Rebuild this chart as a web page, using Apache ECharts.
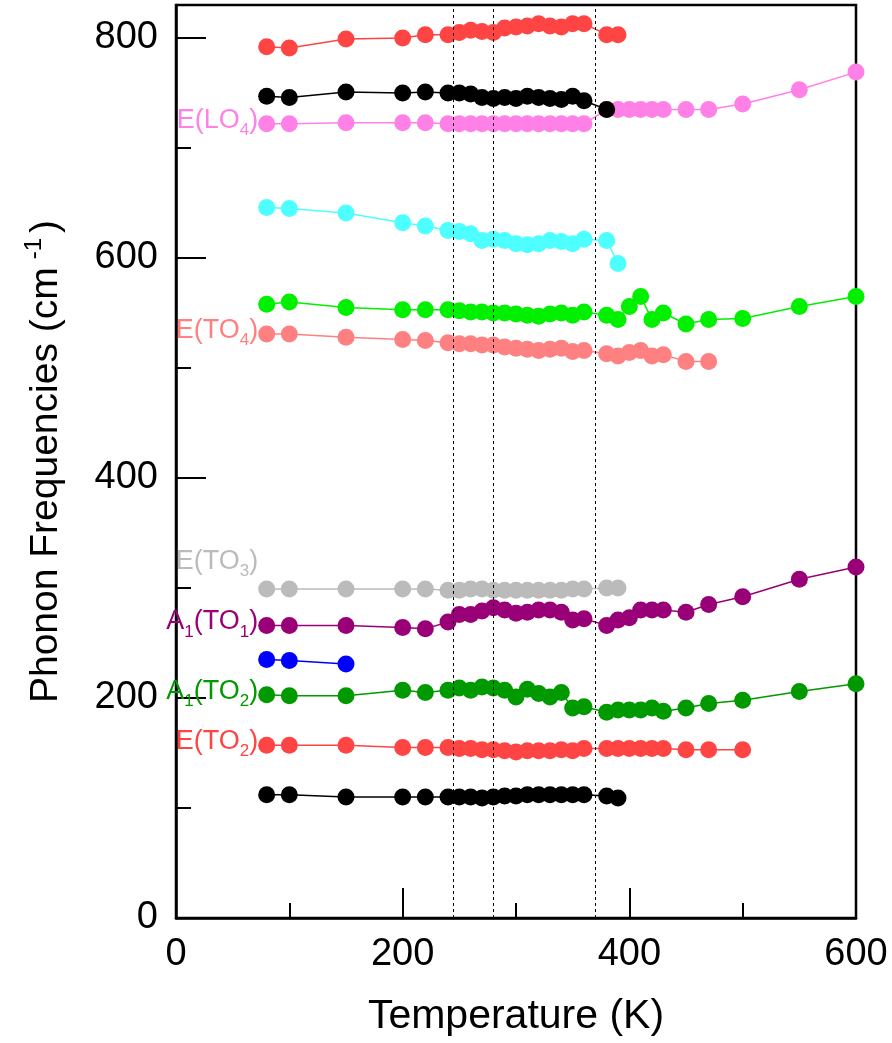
<!DOCTYPE html>
<html>
<head>
<meta charset="utf-8">
<script src="https://cdn.jsdelivr.net/npm/echarts@6/dist/echarts.min.js"></script>
<style>
  html, body { margin: 0; padding: 0; background: #fff; }
  #chart { width: 892px; height: 1043px; }
</style>
</head>
<body>
<div id="chart"></div>
<script>
// temperatures (K)
let tCore = [80, 100, 150, 200, 220, 240, 250, 260, 270, 280, 290, 300, 310, 320, 330, 340, 350, 360];
let tTo390 = tCore.concat([380, 390]);
let tTo380 = tCore.concat([380]);
let tTo470 = tTo390.concat([400, 410, 420, 430, 450, 470]);
let tTo500 = tTo470.concat([500]);
let tTo600 = tTo500.concat([550, 600]);

// phonon frequencies (cm-1)
let redTop = [792, 791, 799, 800, 803, 803, 805, 807, 806, 805, 809, 810, 811, 813, 811, 810, 813, 813, 803, 803];
let blackTop = [747, 746, 751, 750, 751, 750, 750, 749, 746, 745, 746, 745, 747, 746, 745, 744, 747, 743, 735];
let pinkLO4 = [722, 722, 723, 723, 723, 722, 722, 722, 722, 722, 722, 722, 722, 722, 722, 722, 722, 722,
    735, 735, 735, 735, 735, 735, 735, 735, 740, 753, 769];
let cyan = [646, 645, 641, 632, 629, 625, 624, 622, 616, 617, 616, 613, 612, 613, 616, 615, 613, 617, 616, 595];
let green = [558, 560, 555, 553, 553, 553, 552, 551, 551, 550, 550, 549, 548, 547, 549, 550, 548, 551,
    548, 544, 556, 565, 544, 550, 540, 544, 545, 556, 565];
let salmonTO4 = [531, 531, 528, 526, 525, 523, 522, 522, 521, 521, 519, 518, 517, 516, 517, 518, 515, 516,
    513, 511, 514, 516, 511, 512, 506, 506];
let grayTO3 = [299, 299, 299, 299, 299, 298, 298, 299, 299, 298, 298, 298, 298, 298, 298, 298, 299, 299, 300, 300];
let purpleTO1 = [266, 266, 266, 264, 263, 269, 276, 276, 279, 282, 280, 277, 278, 280, 280, 278, 271, 272,
    266, 271, 273, 280, 280, 280, 278, 285, 292, 308, 319];
let blue = [235, 234, 231];
let dgreenTO2 = [203, 202, 202, 207, 205, 207, 209, 207, 210, 209, 207, 201, 208, 204, 201, 205, 191, 192,
    187, 189, 189, 189, 191, 188, 191, 195, 198, 206, 213];
let redTO2 = [157, 157, 157, 155, 155, 155, 154, 154, 153, 153, 152, 151, 152, 152, 152, 153, 152, 154,
    154, 154, 154, 154, 154, 154, 153, 153, 153];
let blackLow = [112, 112, 110, 110, 110, 110, 110, 110, 109, 110, 111, 111, 112, 112, 112, 112, 112, 112, 111, 109];

// transition temperatures (dashed lines)
let transitions = [245, 280, 370];

let sans = '"Liberation Sans", Arial, sans-serif';

function modeLabel(text, color, offset) {
    return {
        show: true,
        position: 'left',
        distance: 0,
        offset: offset || [0, 0],
        formatter: text,
        rich: {
            m: { fontFamily: sans, fontSize: 27, color: color, lineHeight: 30, padding: [0, 0, 5, 0], verticalAlign: 'bottom' },
            s: { fontFamily: sans, fontSize: 17, color: color, lineHeight: 18, verticalAlign: 'bottom' }
        }
    };
}

function makeSeries(name, temps, vals, color, label) {
    let data = [];
    for (let i = 0, len = vals.length; i < len; i++) {
        let item = { value: [temps[i], vals[i]] };
        if (i === 0 && label) {
            item.label = label;
        }
        data.push(item);
    }
    return {
        name: name,
        type: 'line',
        symbol: 'circle',
        symbolSize: 17,
        itemStyle: { color: color },
        lineStyle: { color: color, width: 1.5 },
        label: { show: false },
        data: data
    };
}

let series = [
    makeSeries('redTop', tTo390, redTop, '#ff4444'),
    makeSeries('E(LO4)', tTo600, pinkLO4, '#ff80e6', modeLabel('{m|E(LO}{s|4}{m|)}', '#ff80e6')),
    makeSeries('blackTop', tTo380, blackTop, '#000000'),
    makeSeries('cyan', tTo390, cyan, '#4dffff'),
    makeSeries('green', tTo600, green, '#00f000'),
    makeSeries('E(TO4)', tTo470, salmonTO4, '#ff8080', modeLabel('{m|E(TO}{s|4}{m|)}', '#ff8080')),
    makeSeries('E(TO3)', tTo390, grayTO3, '#bbbbbb', modeLabel('{m|E(TO}{s|3}{m|)}', '#bbbbbb', [0, -24])),
    makeSeries('A1(TO1)', tTo600, purpleTO1, '#990077', modeLabel('{m|A}{s|1}{m|(TO}{s|1}{m|)}', '#990077')),
    makeSeries('blue', [80, 100, 150], blue, '#0000ff'),
    makeSeries('A1(TO2)', tTo600, dgreenTO2, '#009900', modeLabel('{m|A}{s|1}{m|(TO}{s|2}{m|)}', '#009900')),
    makeSeries('E(TO2)', tTo500, redTO2, '#ff4444', modeLabel('{m|E(TO}{s|2}{m|)}', '#ff4444')),
    makeSeries('blackLow', tTo390, blackLow, '#000000')
];

series[0].markLine = {
    silent: true,
    symbol: 'none',
    label: { show: false },
    lineStyle: { color: '#000', width: 1, type: [3, 3] },
    data: transitions.map(function (t) { return { xAxis: t }; })
};

let chart = echarts.init(document.getElementById('chart'));
let option = {
    animation: false,
    backgroundColor: '#fff',
    grid: {
        left: 176,
        right: 36,
        top: 5,
        bottom: 125,
        show: true,
        borderColor: '#000',
        borderWidth: 2.5,
        backgroundColor: 'transparent'
    },
    xAxis: {
        type: 'value',
        min: 0,
        max: 600,
        interval: 200,
        name: 'Temperature (K)',
        nameLocation: 'middle',
        nameGap: 78,
        nameTextStyle: { fontFamily: sans, fontSize: 41, color: '#000' },
        axisLine: { show: true, lineStyle: { color: '#000', width: 2.5 } },
        axisTick: { show: true, inside: true, length: 30, lineStyle: { color: '#000', width: 2 } },
        minorTick: { show: true, splitNumber: 2, length: 15, lineStyle: { color: '#000', width: 2 } },
        axisLabel: { fontFamily: sans, fontSize: 38, color: '#000', margin: 18 },
        splitLine: { show: false }
    },
    yAxis: [
        {
            type: 'value',
            min: 0,
            max: 830,
            interval: 200,
            name: '{t|Phonon Frequencies (cm}{p|-1}{t|)}',
            nameLocation: 'middle',
            nameGap: 110,
            nameTextStyle: {
                rich: {
                    t: { fontFamily: sans, fontSize: 39, color: '#000', lineHeight: 44, verticalAlign: 'bottom' },
                    p: { fontFamily: sans, fontSize: 24, color: '#000', lineHeight: 24, verticalAlign: 'top', padding: [0, 5, 0, 8] }
                }
            },
            axisLine: { show: true, lineStyle: { color: '#000', width: 2.5 } },
            axisTick: { show: true, inside: true, length: 30, lineStyle: { color: '#000', width: 2 } },
            axisLabel: {
                fontFamily: sans, fontSize: 38, color: '#000', margin: 18,
                formatter: function (v) { return v % 200 === 0 ? v : ''; }
            },
            splitLine: { show: false }
        },
        {
            type: 'value',
            min: 0,
            max: 830,
            interval: 100,
            position: 'left',
            axisLine: { show: false },
            axisTick: { show: true, inside: true, length: 15, lineStyle: { color: '#000', width: 2 } },
            axisLabel: { show: false },
            splitLine: { show: false }
        }
    ],
    series: series
};
chart.setOption(option);
</script>
</body>
</html>
